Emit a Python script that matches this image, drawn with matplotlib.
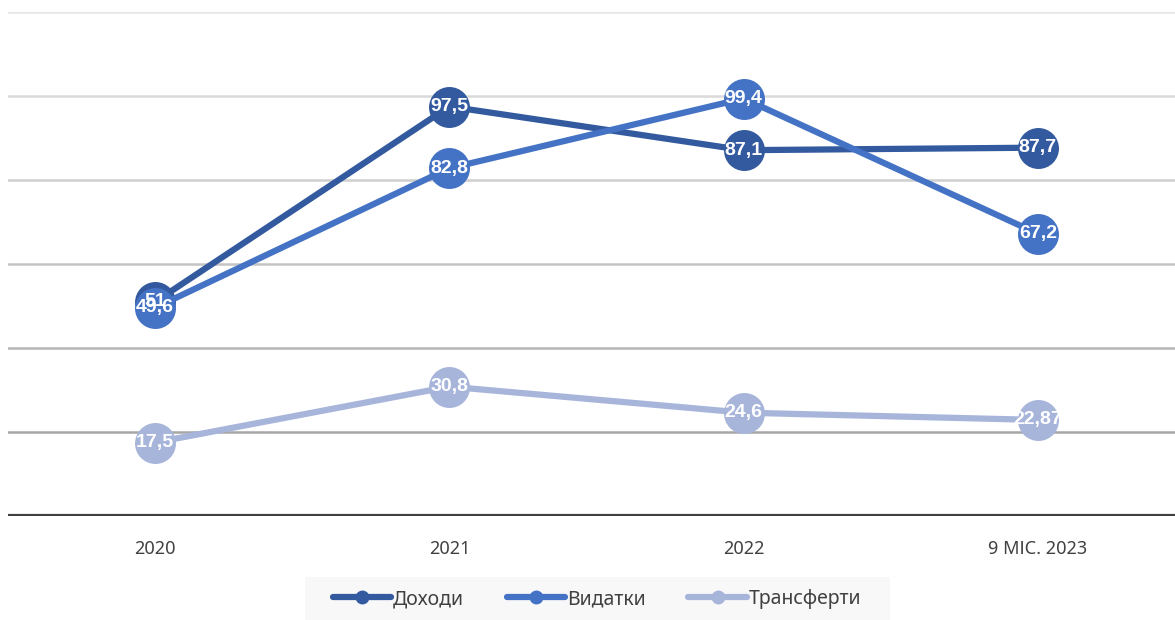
import matplotlib.pyplot as plt
from matplotlib.patches import Rectangle

# categories and series
categories = ['2020', '2021', '2022', '9 МІС. 2023']
income = [51, 97.5, 87.1, 87.7]
expenses = [49.6, 82.8, 99.4, 67.2]
transfers = [17.5, 30.8, 24.6, 22.87]
labels_income = ['51', '97,5', '87,1', '87,7']
labels_expenses = ['49,6', '82,8', '99,4', '67,2']
labels_transfers = ['17,5', '30,8', '24,6', '22,87']

series = [
    ('Доходи', income, labels_income, '#335a9f'),
    ('Видатки', expenses, labels_expenses, '#4472c4'),
    ('Трансферти', transfers, labels_transfers, '#a7b5db'),
]

plt.rcParams['font.family'] = ['Noto Sans', 'DejaVu Sans']

fig = plt.figure(figsize=(11.75, 6.2), dpi=100)
ax = fig.add_axes([8 / 1175, 104 / 620, 1177 / 1175, 504 / 620])

x = list(range(len(categories)))

# gridlines, getting darker towards the bottom
grid_vals = [120, 100, 80, 60, 40, 20]
grid_cols = ['#e6e6e6', '#dadada', '#cfcfcf', '#c4c4c4', '#b6b6b6', '#a6a6a6']
for v, c in zip(grid_vals, grid_cols):
    ax.axhline(v, color=c, lw=1.8, zorder=0)
ax.axhline(0, color='#404040', lw=3, zorder=1)

for name, vals, labs, col in series:
    ax.plot(x, vals, color=col, lw=4.5, marker='o', markersize=29.5,
            markeredgewidth=0, solid_capstyle='round', label=name, zorder=3)

for name, vals, labs, col in series:
    for xi, v, t in zip(x, vals, labs):
        ax.text(xi, v, t, ha='center', va='center', color='white',
                fontsize=14, fontweight='bold', family='Liberation Sans', zorder=5)

ax.set_xlim(-0.5, 3.5)
ax.set_ylim(0, 120)
ax.set_yticks([])
ax.set_xticks(x)
ax.set_xticklabels(categories, fontsize=13, color='#404040')
ax.tick_params(axis='x', length=0, pad=17)
for s in ax.spines.values():
    s.set_visible(False)

# legend background
fig.patches.append(Rectangle((305 / 1175, 0), 585 / 1175, 43 / 620,
                             transform=fig.transFigure, facecolor='#f8f8f8',
                             edgecolor='none', zorder=0))
leg_handles = []
for name, vals, labs, col in series:
    lh, = plt.plot([], [], color=col, lw=4.5, marker='o', markersize=9,
                   solid_capstyle='round', label=name)
    leg_handles.append(lh)
fig.legend(handles=leg_handles, loc='center', bbox_to_anchor=(597 / 1175, 21 / 620),
           ncol=3, frameon=False, fontsize=14, handlelength=3.0, handletextpad=0.1,
           columnspacing=2.2, labelcolor='#404040')

fig.savefig('out.png', dpi=100)
